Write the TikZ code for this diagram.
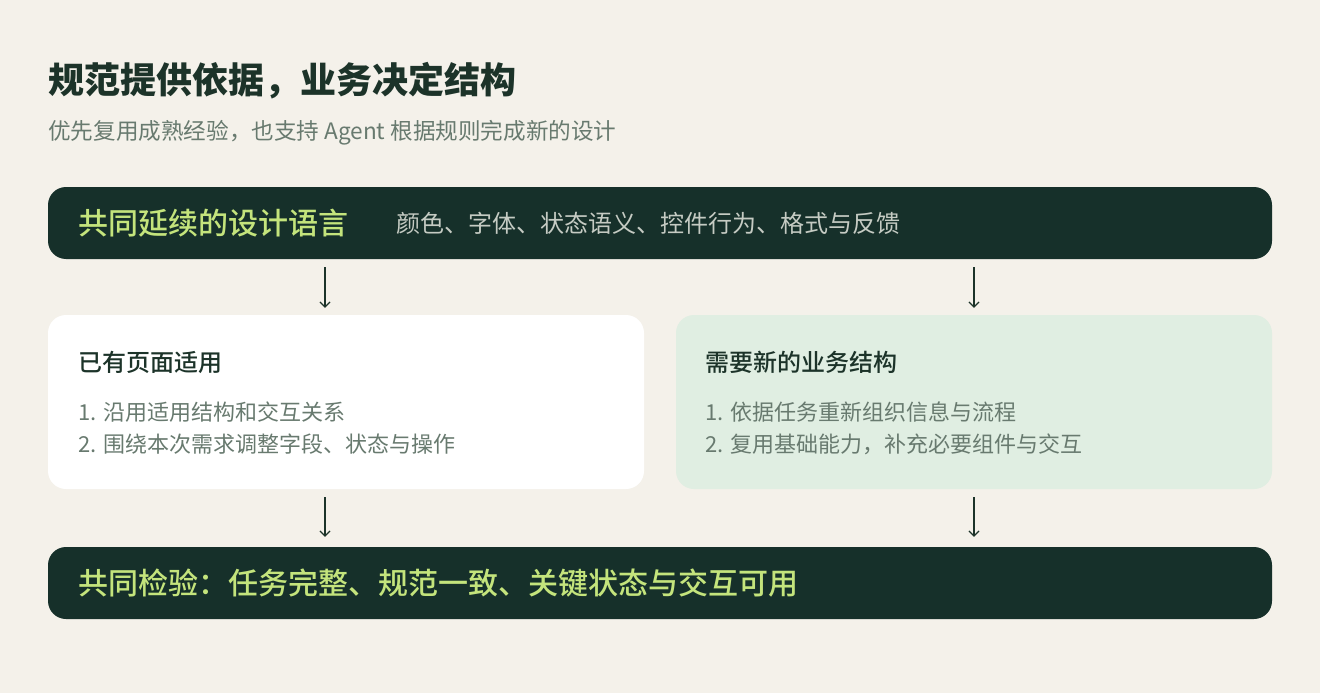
\documentclass[tikz,border=0pt]{standalone}
\usepackage{fontspec}
\setmainfont{Noto Sans CJK SC}
\newfontfamily\cjkmed{Noto Sans CJK SC Medium}
\usetikzlibrary{positioning,arrows.meta}

\definecolor{paper}{HTML}{F4F1EA}
\definecolor{forest}{HTML}{16302A}
\definecolor{lime}{HTML}{C4E47C}
\definecolor{mist}{HTML}{C5CBC3}
\definecolor{ink}{HTML}{1C3329}
\definecolor{sage}{HTML}{687A6F}
\definecolor{mint}{HTML}{E0EEE2}

\tikzset{
    bar/.style={fill=forest, rounded corners=18pt, minimum width=1224pt, minimum height=72pt, inner sep=0pt},
    card/.style={rounded corners=18pt, minimum width=596pt, minimum height=174pt, inner sep=0pt},
    txt/.style={anchor=west, inner sep=0pt, align=left},
    flow/.style={draw=ink, line width=1.3pt, -{Straight Barb[length=5pt,width=10pt,line width=1.2pt]}}
}

\newcommand{\fs}[2]{\fontsize{#1}{#2}\selectfont}

\begin{document}
\begin{tikzpicture}[x=1pt,y=-1pt]
    % Canvas
    \fill[paper] (0,0) rectangle (1320,693);
    \useasboundingbox (0,0) rectangle (1320,693);

    % Heading
    \node[txt, text=ink, font=\fs{36}{40}\bfseries] (title) at (48,81) {规范提供依据，业务决定结构};
    \node[txt, text=sage, font=\fs{22.6}{26}] (subtitle) at (48,133) {优先复用成熟经验，也支持 Agent 根据规则完成新的设计};

    % Bars and cards
    \node[bar] (lang) at (660,223) {};
    \node[card, fill=white] (reuse) at (346,402) {};
    \node[card, fill=mint] (rebuild) at (974,402) {};
    \node[bar] (check) at (660,583) {};

    % Labels
    \node[txt, text=lime, font=\fs{30}{34}\cjkmed] (langhead) at (78,223) {共同延续的设计语言};
    \node[txt, text=mist, font=\fs{24}{28}] (langlist) at (396,223) {颜色、字体、状态语义、控件行为、格式与反馈};

    \node[txt, text=ink, font=\fs{24}{28}\cjkmed] (reusehead) at (78,362) {已有页面适用};
    \node[txt, text=sage, font=\fs{22}{32}] (reuselist) at (78,428) {1. 沿用适用结构和交互关系\\2. 围绕本次需求调整字段、状态与操作};

    \node[txt, text=ink, font=\fs{24}{28}\cjkmed] (rebuildhead) at (705,362) {需要新的业务结构};
    \node[txt, text=sage, font=\fs{22}{32}] (rebuildlist) at (705,428) {1. 依据任务重新组织信息与流程\\2. 复用基础能力，补充必要组件与交互};

    \node[txt, text=lime, font=\fs{30}{34}\cjkmed] (checkhead) at (78,583) {共同检验：任务完整、规范一致、关键状态与交互可用};

    % Arrows
    \coordinate (lx) at (325,0);
    \coordinate (rx) at (974,0);
    \draw[flow, shorten <=8pt, shorten >=7pt] (lang.south -| lx) -- (reuse.north -| lx);
    \draw[flow, shorten <=8pt, shorten >=7pt] (lang.south -| rx) -- (rebuild.north -| rx);
    \draw[flow, shorten <=8pt, shorten >=10pt] (reuse.south -| lx) -- (check.north -| lx);
    \draw[flow, shorten <=8pt, shorten >=10pt] (rebuild.south -| rx) -- (check.north -| rx);
\end{tikzpicture}
\end{document}
